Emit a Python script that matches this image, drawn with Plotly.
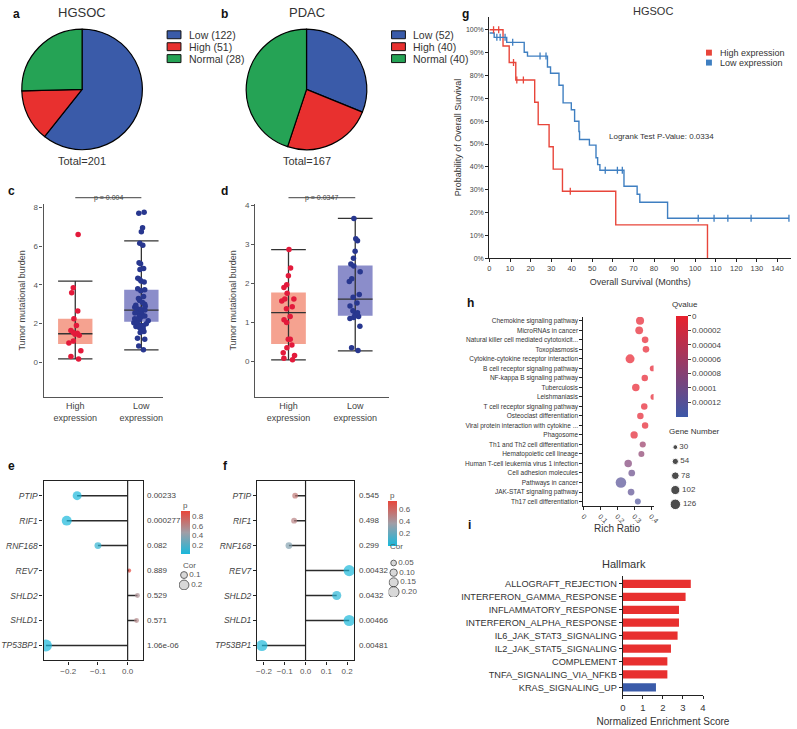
import plotly.graph_objects as go

W, H = 797, 729
FONT = "Liberation Sans, Arial, sans-serif"


def fx(px):
    return px / W


def fy(py):
    return 1 - py / H


# ---------------- data ----------------
# a / b : expression groups (slices as drawn, legend text as printed)
pie_colors = ["#3a5ba9", "#e8302f", "#25a355"]
hgsoc_slices = [122, 28, 51]
hgsoc_legend = ["Low (122)", "High (51)", "Normal (28)"]
pdac_slices = [52, 40, 75]
pdac_legend = ["Low (52)", "High (40)", "Normal (40)"]

# c / d : tumor mutational burden
tmb_groups = ["High<br>expression", "Low<br>expression"]
c_q1, c_med, c_q3 = [0.95, 2.10], [1.48, 2.70], [2.25, 3.75]
c_lo, c_hi = [0.18, 0.65], [4.20, 6.28]
c_high_pts = [6.6, 3.85, 3.6, 2.65, 2.25, 1.9, 1.65, 1.55, 1.5, 1.45, 1.4, 1.1, 1.0, 0.6, 0.3, 0.18]
c_low_pts = [7.75, 7.7, 6.95, 6.75, 6.15, 6.05, 5.15, 5.1, 4.85, 4.8, 4.35, 4.3, 4.2, 4.15,
             3.8, 3.75, 3.7, 3.4, 3.3, 3.2, 3.1, 3.0, 2.95, 2.9, 2.85, 2.8, 2.75, 2.7, 2.65,
             2.6, 2.55, 2.5, 2.45, 2.4, 2.35, 2.3, 2.25, 2.2, 2.15, 2.1, 2.05, 2.0, 1.95,
             1.9, 1.85, 1.8, 1.75, 1.7, 1.6, 1.55, 1.25, 1.2, 0.85, 0.65]
d_q1, d_med, d_q3 = [0.45, 1.17], [1.25, 1.60], [1.77, 2.46]
d_lo, d_hi = [0.04, 0.27], [2.87, 3.67]
d_high_pts = [2.87, 2.4, 2.2, 1.97, 1.9, 1.75, 1.6, 1.6, 1.55, 1.4, 1.35, 1.15, 1.07, 1.0,
              0.57, 0.57, 0.42, 0.35, 0.22, 0.15, 0.08, 0.04]
d_low_pts = [3.67, 3.15, 3.1, 2.83, 2.65, 2.5, 2.45, 2.3, 2.12, 2.05, 1.72, 1.65, 1.5, 1.42,
             1.3, 1.25, 1.2, 1.15, 1.13, 1.1, 0.9, 0.35, 0.28]

# e / f : correlation lollipops
genes = ["PTIP", "RIF1", "RNF168", "REV7", "SHLD2", "SHLD1", "TP53BP1"]
hgsoc_cor = [-0.17, -0.205, -0.10, 0.005, 0.033, 0.030, -0.275]
hgsoc_p = [0.00233, 0.000277, 0.082, 0.889, 0.529, 0.571, 1.06e-06]
hgsoc_p_text = ["0.00233", "0.000277", "0.082", "0.889", "0.529", "0.571", "1.06e-06"]
pdac_cor = [-0.05, -0.055, -0.08, 0.21, 0.15, 0.21, -0.21]
pdac_p = [0.545, 0.498, 0.299, 0.00432, 0.0432, 0.00466, 0.00481]
pdac_p_text = ["0.545", "0.498", "0.299", "0.00432", "0.0432", "0.00466", "0.00481"]
e_cor_legend = [0.1, 0.2]
f_cor_legend = [0.05, 0.10, 0.15, 0.20]

# g : Kaplan-Meier
km_high_t = [0, 6.6, 9.6, 12.8, 22.0, 23.7, 29.0, 31.0, 35.5, 61.4, 106.0]
km_high_s = [1.0, 0.929, 0.857, 0.780, 0.683, 0.585, 0.488, 0.390, 0.293, 0.146, 0.0]
km_high_cens_t = [2.0, 4.5, 11.7, 13.3, 16.5, 39.3]
km_high_cens_s = [1.0, 1.0, 0.857, 0.780, 0.780, 0.293]
km_low_t = [0, 2.3, 8.4, 16.9, 18.5, 28.2, 29.7, 33.8, 35.8, 39.8, 41.4, 43.5, 43.8, 48.6,
            51.8, 52.6, 53.7, 65.4, 71.8, 73.1, 86.6, 145.6]
km_low_s = [0.986, 0.967, 0.945, 0.902, 0.885, 0.837, 0.81, 0.757, 0.68, 0.65, 0.60, 0.555,
            0.52, 0.495, 0.44, 0.41, 0.385, 0.315, 0.28, 0.245, 0.175, 0.175]
km_low_cens_t = [3.6, 5.2, 7.6, 11.3, 24.6, 27.5, 56.3, 62.2, 64.6, 101.5, 109.2, 115.9, 127.2, 145.6]
km_low_cens_s = [0.967, 0.967, 0.967, 0.945, 0.885, 0.885, 0.385, 0.385, 0.385,
                 0.175, 0.175, 0.175, 0.175, 0.175]

# h : KEGG enrichment
pathways = ["Chemokine signaling pathway", "MicroRNAs in cancer",
            "Natural killer cell mediated cytotoxicit...", "Toxoplasmosis",
            "Cytokine-cytokine receptor interaction", "B cell receptor signaling pathway",
            "NF-kappa B signaling pathway", "Tuberculosis", "Leishmaniasis",
            "T cell receptor signaling pathway", "Osteoclast differentiation",
            "Viral protein interaction with cytokine ...", "Phagosome",
            "Th1 and Th2 cell differentiation", "Hematopoietic cell lineage",
            "Human T-cell leukemia virus 1 infection", "Cell adhesion molecules",
            "Pathways in cancer", "JAK-STAT signaling pathway", "Th17 cell differentiation"]
rich_ratio = [0.335, 0.33, 0.365, 0.37, 0.276, 0.41, 0.363, 0.31, 0.414, 0.36,
              0.337, 0.365, 0.30, 0.351, 0.343, 0.265, 0.286, 0.222, 0.282, 0.322]
qvalue = [1e-6, 2e-6, 1e-6, 1e-6, 0, 1e-6, 1e-6, 0, 2e-6, 1e-6,
          3e-6, 2e-6, 4e-6, 6.5e-5, 7.5e-5, 8.5e-5, 1.05e-4, 1.2e-4, 1.15e-4, 1.25e-4]
gene_number = [85, 80, 60, 60, 100, 48, 58, 75, 48, 58, 58, 58, 72, 52, 50, 75, 62, 126, 62, 50]
gene_legend = [30, 54, 78, 102, 126]
q_ticks = [0, 0.00002, 0.00004, 0.00006, 0.00008, 0.0001, 0.00012]
q_ticktext = ["0", "0.00002", "0.00004", "0.00006", "0.00008", "0.0001", "0.00012"]

# i : Hallmark GSEA
hallmark_sets = ["ALLOGRAFT_REJECTION", "INTERFERON_GAMMA_RESPONSE", "INFLAMMATORY_RESPONSE",
                 "INTERFERON_ALPHA_RESPONSE", "IL6_JAK_STAT3_SIGNALING", "IL2_JAK_STAT5_SIGNALING",
                 "COMPLEMENT", "TNFA_SIGNALING_VIA_NFKB", "KRAS_SIGNALING_UP"]
nes = [3.39, 3.13, 2.80, 2.80, 2.73, 2.40, 2.22, 2.22, 1.65]
hallmark_group = ["immune"] * 8 + ["kras"]

# ---------------- figure ----------------
fig = go.Figure()

# a / b pies
for slices, cx in [(hgsoc_slices, 80), (pdac_slices, 307)]:
    fig.add_trace(go.Pie(
        values=slices, labels=["Low", "High", "Normal"], sort=False, direction="clockwise",
        marker=dict(colors=pie_colors, line=dict(color="black", width=1.2)),
        textinfo="none", showlegend=False, hoverinfo="skip",
        domain=dict(x=[fx(cx - 61), fx(cx + 61)], y=[fy(149), fy(27)]),
    ))

# c / d boxes
box_fill = ["#f5a290", "#8b8dca"]
pt_color = ["#e31a3b", "#28378f"]
for xa, ya, q1, med, q3, lo, hi, pts in [
    ("x", "y", c_q1, c_med, c_q3, c_lo, c_hi, [c_high_pts, c_low_pts]),
    ("x2", "y2", d_q1, d_med, d_q3, d_lo, d_hi, [d_high_pts, d_low_pts]),
]:
    for i in range(2):
        fig.add_trace(go.Box(
            x=[i], q1=[q1[i]], median=[q3[i]], q3=[q3[i]], lowerfence=[q1[i]], upperfence=[q3[i]],
            orientation="v", width=0.52, fillcolor=box_fill[i], line=dict(width=0, color=box_fill[i]),
            boxpoints=False, showlegend=False, hoverinfo="skip", xaxis=xa, yaxis=ya))
        fig.add_trace(go.Box(
            x=[i], q1=[med[i]], median=[med[i]], q3=[med[i]], lowerfence=[lo[i]], upperfence=[hi[i]],
            orientation="v", width=0.52, whiskerwidth=1, fillcolor="rgba(0,0,0,0)",
            line=dict(width=1.3, color="#333333"),
            boxpoints=False, showlegend=False, hoverinfo="skip", xaxis=xa, yaxis=ya))
        fig.add_trace(go.Box(
            x=[i] * len(pts[i]), y=pts[i], orientation="v", width=0.52,
            boxpoints="all", jitter=0.45, pointpos=0,
            fillcolor="rgba(0,0,0,0)", line=dict(width=0, color="rgba(0,0,0,0)"),
            marker=dict(color=pt_color[i], size=5.5),
            showlegend=False, hoverinfo="skip", xaxis=xa, yaxis=ya))

# e / f lollipops
p_scale = [[0, "#19b8db"], [0.5, "#a09ea6"], [1, "#e8473b"]]


def cor_size(c, k):
    return 4 + k * abs(c)


for cor, pv, xa, ya, k, cmax, cbx, cby, cblen, ticks in [
    (hgsoc_cor, hgsoc_p, "x3", "y3", 29, 0.9, 180, 513, 43, [0.2, 0.4, 0.6, 0.8]),
    (pdac_cor, pdac_p, "x4", "y4", 34, 0.75, 389, 502, 45, [0.2, 0.4, 0.6]),
]:
    sx, sy = [], []
    for i, c in enumerate(cor):
        sx += [0, c, None]
        sy += [i, i, None]
    fig.add_trace(go.Scatter(x=sx, y=sy, mode="lines", line=dict(color="#2b2b2b", width=1.5),
                             showlegend=False, hoverinfo="skip", xaxis=xa, yaxis=ya))
    fig.add_trace(go.Scatter(
        x=cor, y=list(range(len(cor))), mode="markers", showlegend=False, hoverinfo="skip",
        marker=dict(color=pv, colorscale=p_scale, cmin=0, cmax=cmax,
                    size=[cor_size(c, k) for c in cor], line=dict(width=0),
                    colorbar=dict(x=fx(cbx), xanchor="left", y=fy(cby), yanchor="top",
                                  len=cblen, lenmode="pixels", thickness=9, xpad=0, ypad=0,
                                  outlinewidth=0, ticks="", tickvals=ticks,
                                  tickfont=dict(size=8, color="#555"))),
        xaxis=xa, yaxis=ya))

# Cor size legends
for vals, k, fmt, xa, ya in [(e_cor_legend, 29, "%.1f", "x8", "y8"),
                             (f_cor_legend, 34, "%.2f", "x9", "y9")]:
    fig.add_trace(go.Scatter(
        x=[1.7] * len(vals), y=list(range(len(vals))), mode="markers+text",
        text=[fmt % v for v in vals],
        textposition="middle right", textfont=dict(size=8, color="#555"),
        marker=dict(size=[cor_size(v, k) for v in vals], color="#c8c8c8",
                    line=dict(color="#222", width=1)),
        showlegend=False, hoverinfo="skip", xaxis=xa, yaxis=ya))

# g Kaplan-Meier
km_red, km_blue = "#e8453a", "#3f7fc1"
fig.add_trace(go.Scatter(x=km_high_t, y=km_high_s, mode="lines", line=dict(color=km_red, width=1.4, shape="hv"),
                         showlegend=False, hoverinfo="skip", xaxis="x5", yaxis="y5"))
fig.add_trace(go.Scatter(x=km_low_t, y=km_low_s, mode="lines", line=dict(color=km_blue, width=1.4, shape="hv"),
                         showlegend=False, hoverinfo="skip", xaxis="x5", yaxis="y5"))
fig.add_trace(go.Scatter(x=km_high_cens_t, y=km_high_cens_s, mode="markers",
                         marker=dict(symbol="line-ns", size=5, line=dict(color=km_red, width=1.3)),
                         showlegend=False, hoverinfo="skip", xaxis="x5", yaxis="y5"))
fig.add_trace(go.Scatter(x=km_low_cens_t, y=km_low_cens_s, mode="markers",
                         marker=dict(symbol="line-ns", size=5, line=dict(color=km_blue, width=1.3)),
                         showlegend=False, hoverinfo="skip", xaxis="x5", yaxis="y5"))

# h bubble
fig.add_trace(go.Scatter(
    x=rich_ratio, y=list(range(len(pathways))), mode="markers", showlegend=False, hoverinfo="skip",
    marker=dict(color=[-q for q in qvalue], cmin=-0.00014, cmax=0,
                colorscale=[[0, "#3c58a8"], [1, "#e8202c"]],
                size=[3 + 0.06 * g for g in gene_number], line=dict(width=0),
                colorbar=dict(x=fx(681), xanchor="left", y=fy(316), yanchor="top", len=101,
                              lenmode="pixels", thickness=12, xpad=0, ypad=0, outlinewidth=0,
                              ticks="outside", ticklen=3, tickcolor="#444",
                              tickvals=[-q for q in q_ticks], ticktext=q_ticktext,
                              tickfont=dict(size=8, color="#444"))),
    xaxis="x6", yaxis="y6"))
fig.add_trace(go.Scatter(
    x=[1.25] * len(gene_legend), y=list(range(len(gene_legend))), mode="markers+text",
    text=[str(g) for g in gene_legend], textposition="middle right",
    textfont=dict(size=8, color="#444"),
    marker=dict(size=[3 + 0.06 * g for g in gene_legend], color="black"),
    showlegend=False, hoverinfo="skip", xaxis="x10", yaxis="y10"))

# i bars
group_color = {"immune": "#e8302f", "kras": "#3a5ba9"}
fig.add_trace(go.Bar(
    x=nes, y=list(range(len(hallmark_sets))), orientation="h", width=0.64,
    marker=dict(color=[group_color[g] for g in hallmark_group], line=dict(width=0)),
    showlegend=False, hoverinfo="skip", xaxis="x7", yaxis="y7"))

# ---------------- axes ----------------
tf8 = dict(size=8, color="#555", family=FONT)
box_ax = dict(showline=True, linecolor="#555", linewidth=1.2, ticks="outside", ticklen=3,
              tickcolor="#555", showgrid=False, zeroline=False, tickfont=tf8)
frame_ax = dict(showline=True, mirror=True, linecolor="#222", linewidth=1.2, ticks="outside",
                ticklen=3, tickcolor="#222", showgrid=False, zeroline=False, tickfont=tf8)
km_ax = dict(showline=True, linecolor="#222", linewidth=1.4, ticks="outside", ticklen=3,
             tickcolor="#222", showgrid=False, zeroline=False, tickfont=tf8)
hidden = dict(visible=False, showgrid=False, zeroline=False)

y_c = [fy(398), fy(203)]
y_ef = [fy(663), fy(482)]
gene_ticks = ["<i>%s</i>" % g for g in genes]

fig.update_layout(
    xaxis=dict(box_ax, domain=[fx(41), fx(162)], range=[-0.48, 1.33], tickvals=[0, 1],
               ticktext=tmb_groups, ticks="", tickfont=dict(size=9, color="#444")),
    yaxis=dict(box_ax, domain=y_c, range=[-1.8, 8.2], tickvals=[0, 2, 4, 6, 8],
               title=dict(text="Tumor mutational burden", font=dict(size=9, color="#444"), standoff=6)),
    xaxis2=dict(box_ax, domain=[fx(255), fx(390)], range=[-0.5, 1.5], tickvals=[0, 1],
                ticktext=tmb_groups, ticks="", tickfont=dict(size=9, color="#444")),
    yaxis2=dict(box_ax, domain=y_c, range=[-0.92, 4.05], tickvals=[0, 1, 2, 3, 4],
                title=dict(text="Tumor mutational burden", font=dict(size=9, color="#444"), standoff=6)),
    xaxis3=dict(frame_ax, domain=[fx(41), fx(142)], range=[-0.283, 0.053],
                tickvals=[-0.2, -0.1, 0.0], ticktext=["\u22120.2", "\u22120.1", "0.0"]),
    yaxis3=dict(frame_ax, domain=y_ef, range=[6.6, -0.6], tickvals=list(range(7)),
                ticktext=gene_ticks, tickfont=dict(size=8.5, color="#444")),
    xaxis4=dict(frame_ax, domain=[fx(257), fx(355)], range=[-0.233, 0.233],
                tickvals=[-0.2, -0.1, 0.0, 0.1, 0.2],
                ticktext=["\u22120.2", "\u22120.1", "0.0", "0.1", "0.2"]),
    yaxis4=dict(frame_ax, domain=y_ef, range=[6.6, -0.6], tickvals=list(range(7)),
                ticktext=gene_ticks, tickfont=dict(size=8.5, color="#444")),
    xaxis5=dict(km_ax, domain=[fx(492), 1.0], range=[0, 146.6], dtick=10,
                tickfont=dict(size=7.5, color="#444"),
                title=dict(text="Overall Survival (Months)", font=dict(size=9, color="#333"), standoff=6)),
    yaxis5=dict(km_ax, domain=[fy(258), fy(15)], range=[0, 1.0565], dtick=0.1, tickformat=".0%",
                tickfont=dict(size=7, color="#444"),
                title=dict(text="Probability of Overall Survival", font=dict(size=9, color="#333"), standoff=2)),
    xaxis6=dict(km_ax, domain=[fx(587), fx(658)], range=[0, 0.415], tickvals=[0, 0.1, 0.2, 0.3, 0.4],
                ticktext=["0", "0.1", "0.2", "0.3", "0.4"], tickangle=45,
                tickfont=dict(size=7, color="#444"), linewidth=1),
    yaxis6=dict(km_ax, domain=[fy(507), fy(317)], range=[19.42, -0.42], tickvals=list(range(len(pathways))),
                ticktext=pathways, tickfont=dict(size=6.5, color="#333"), linewidth=1),
    xaxis7=dict(km_ax, domain=[fx(627), fx(708)], range=[0, 4], dtick=1,
                tickfont=dict(size=9.5, color="#333"),
                title=dict(text="Normalized Enrichment Score", font=dict(size=10, color="#333"), standoff=6)),
    yaxis7=dict(km_ax, domain=[fy(698), fy(578)], range=[8.615, -0.615],
                tickvals=list(range(len(hallmark_sets))), ticktext=hallmark_sets,
                tickfont=dict(size=9.2, color="#333")),
    xaxis8=dict(hidden, domain=[fx(178), fx(208)], range=[0, 10]),
    yaxis8=dict(hidden, domain=[fy(592), fy(572)], range=[1.5, -0.5]),
    xaxis9=dict(hidden, domain=[fx(390), fx(420)], range=[0, 10]),
    yaxis9=dict(hidden, domain=[fy(599), fy(560)], range=[3.5, -0.5]),
    xaxis10=dict(hidden, domain=[fx(675), fx(715)], range=[0, 10]),
    yaxis10=dict(hidden, domain=[fy(513), fy(441)], range=[4.5, -0.5]),
)
for n in range(1, 11):
    sfx = "" if n == 1 else str(n)
    fig.layout["xaxis" + sfx].anchor = "y" + sfx
    fig.layout["yaxis" + sfx].anchor = "x" + sfx

# ---------------- shapes & text ----------------
shapes = []
ann = []


def text(px, py, s, size=10, color="#333", xanchor="center", yanchor="middle", bold=False):
    ann.append(dict(x=fx(px), y=fy(py), xref="paper", yref="paper", text="<b>%s</b>" % s if bold else s,
                    showarrow=False, xanchor=xanchor, yanchor=yanchor,
                    font=dict(size=size, color=color, family=FONT)))


for lbl, px, py in [("a", 8, 12), ("b", 218, 12), ("c", 3, 190), ("d", 218, 190),
                    ("e", 3, 467), ("f", 220, 467), ("g", 462, 12), ("h", 467, 303), ("i", 468, 527)]:
    text(px, py, lbl, size=12, color="#111", xanchor="left", bold=True)

text(80, 11, "HGSOC", size=13)
text(307, 11, "PDAC", size=13)
text(80, 160, "Total=201", size=11)
text(307, 160, "Total=167", size=11)
for legend, sx in [(hgsoc_legend, 166), (pdac_legend, 393)]:
    for j, (lab, col) in enumerate(zip(legend, pie_colors)):
        cy = 33 + 12 * j
        shapes.append(dict(type="rect", xref="paper", yref="paper", x0=fx(sx), x1=fx(sx + 14),
                           y0=fy(cy + 4), y1=fy(cy - 4), fillcolor=col, line=dict(color="#111", width=1)))
        text(sx + 20, cy, lab, size=10.5, xanchor="left")

# p-value brackets
for x0, x1, lab, xa in [(0, 1, "p = 0.004", "x"), (0, 1, "p = 0.0347", "x2")]:
    shapes.append(dict(type="line", xref=xa, yref="paper", x0=x0, x1=x1, y0=fy(197), y1=fy(197),
                       line=dict(color="#666", width=1.2)))
    ann.append(dict(x=0.5, y=fy(191), xref=xa, yref="paper", text=lab, showarrow=False,
                    font=dict(size=7, color="#444", family=FONT)))

# zero lines of lollipops + p labels
for xa, ya, labels, px in [("x3", "y3", hgsoc_p_text, 144), ("x4", "y4", pdac_p_text, 358)]:
    shapes.append(dict(type="line", xref=xa, yref=ya + " domain", x0=0, x1=0, y0=0, y1=1,
                       line=dict(color="#222", width=1.2)))
    for i, lab in enumerate(labels):
        ann.append(dict(x=fx(px), y=i, xref="paper", yref=ya, text=lab, showarrow=False, xanchor="left",
                        font=dict(size=8, color="#444", family=FONT)))
text(180, 507, "p", size=8, color="#555", xanchor="left")
text(389, 497, "p", size=8, color="#555", xanchor="left")
text(180, 567, "Cor", size=8, color="#555", xanchor="left")
text(389, 548, "Cor", size=8, color="#555", xanchor="left")

# KM annotations
text(657, 9, "HGSOC", size=11)
text(611, 135, "Logrank Test P-Value: 0.0334", size=8, xanchor="left")
for j, (lab, col) in enumerate([("High expression", km_red), ("Low expression", km_blue)]):
    cy = 51 + 10 * j
    shapes.append(dict(type="rect", xref="paper", yref="paper", x0=fx(711), x1=fx(717),
                       y0=fy(cy + 3), y1=fy(cy - 3), fillcolor=col, line=dict(width=0)))
    text(723, cy, lab, size=9, xanchor="left")

# h / i titles
text(690, 305, "Qvalue", size=8)
text(699, 432, "Gene Number", size=8)
text(622, 530, "Rich Ratio", size=10)
text(628, 566, "Hallmark", size=11)

fig.update_layout(
    width=W, height=H, autosize=False, margin=dict(l=0, r=0, t=0, b=0),
    paper_bgcolor="white", plot_bgcolor="white", showlegend=False,
    font=dict(family=FONT, color="#333"), boxmode="overlay",
    shapes=shapes, annotations=ann,
)

fig.write_html("out.html", config={"displayModeBar": False},
               post_script="document.body.style.margin='0';")
